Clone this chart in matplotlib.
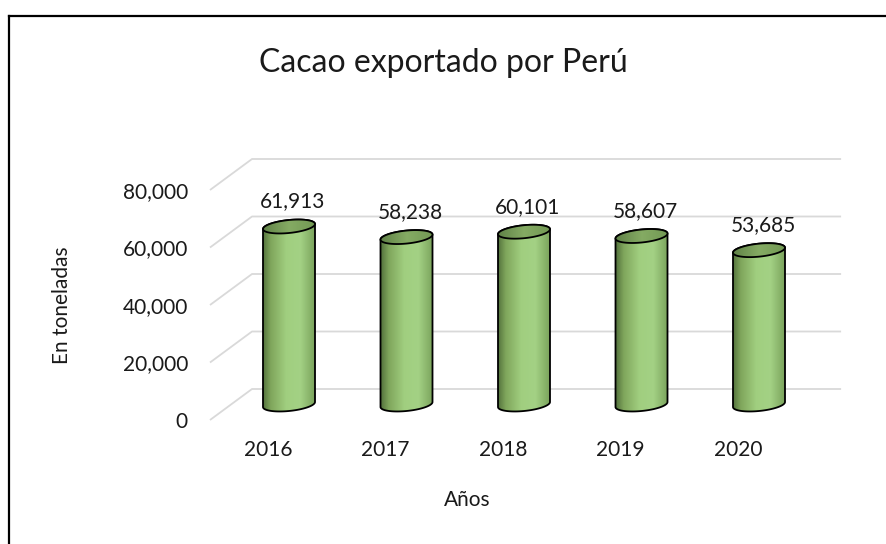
import matplotlib.pyplot as plt
import numpy as np
from matplotlib.patches import Polygon
from matplotlib.lines import Line2D
from matplotlib.colors import LinearSegmentedColormap

# data
years = ["2016", "2017", "2018", "2019", "2020"]
toneladas = [61913, 58238, 60101, 58607, 53685]
y_ticks = [0, 20000, 40000, 60000, 80000]

FONT = ["Lato", "DejaVu Sans"]

# pixel scale of the front plane (figure is 886 x 544 px)
SX = 117.5           # px per category
SY = 57.5 / 20000    # px per tonne
X0_PX, Y0_PX = 268, 420   # front position of first category / value 0

fig = plt.figure(figsize=(8.86, 5.44), dpi=100)
ax = fig.add_axes([0, 0, 1, 1])
ax.set_xlim(-X0_PX / SX, (886 - X0_PX) / SX)
ax.set_ylim(-(544 - Y0_PX) / SY, Y0_PX / SY)
ax.axis("off")

# depth offsets (in data units)
back_dx, back_dy = 42 / SX, 31 / SY
mid_dx, mid_dy = 21 / SX, 15.5 / SY
x_left = -58 / SX
x_right = 4.52

# back wall gridlines with the perspective floor edge
for v in y_ticks:
    ax.plot([x_left, x_left + back_dx, x_right + back_dx],
            [v, v + back_dy, v + back_dy],
            color="#d9d9d9", lw=1.3, zorder=1, solid_capstyle="butt")
    ax.annotate(f"{v:,}", (x_left, v), xytext=(-22, -2), textcoords="offset pixels",
                ha="right", va="center", fontsize=15, family=FONT, color="#1a1a1a")

# cylinders
hw_px, b_px, tilt_px = 26, 6.5, 2.5

def ellipse(cx, cy, t):
    x = cx + hw_px * np.cos(t) / SX
    y = cy + (b_px * np.sin(t) + tilt_px * np.cos(t)) / SY
    return np.column_stack([x, y])

body_cmap = LinearSegmentedColormap.from_list("body", [
    (0.0, (0.33, 0.45, 0.24)), (0.15, (0.50, 0.65, 0.36)),
    (0.45, (0.63, 0.81, 0.50)), (0.72, (0.64, 0.82, 0.52)),
    (1.0, (0.48, 0.64, 0.36))])
top_cmap = LinearSegmentedColormap.from_list("top", [
    (0.0, (0.38, 0.51, 0.28)), (0.5, (0.52, 0.67, 0.39)),
    (1.0, (0.45, 0.60, 0.33))])
grad = np.linspace(0, 1, 256).reshape(1, -1)

for i, (yr, v) in enumerate(zip(years, toneladas)):
    cx = i + mid_dx
    yb = mid_dy
    yt = v + mid_dy
    t_low = np.linspace(np.pi, 2 * np.pi, 60)
    t_up = np.linspace(0, np.pi, 60)
    body_pts = np.vstack([ellipse(cx, yb, t_low), ellipse(cx, yt, t_up)])
    body = Polygon(body_pts, closed=True, facecolor="none", edgecolor="black",
                   lw=1.3, zorder=4)
    ax.add_patch(body)
    ext = [cx - hw_px / SX, cx + hw_px / SX, yb - 12 / SY, yt + 12 / SY]
    im = ax.imshow(grad, cmap=body_cmap, extent=ext, aspect="auto", zorder=3,
                   interpolation="bilinear")
    im.set_clip_path(body)

    top_pts = ellipse(cx, yt, np.linspace(0, 2 * np.pi, 120))
    top = Polygon(top_pts, closed=True, facecolor="none", edgecolor="black",
                  lw=1.3, zorder=6)
    ax.add_patch(top)
    im2 = ax.imshow(grad, cmap=top_cmap, extent=ext, aspect="auto", zorder=5,
                    interpolation="bilinear")
    im2.set_clip_path(top)

    ax.annotate(f"{v:,}", (cx, yt), xytext=(4, 25), textcoords="offset pixels",
                ha="center", va="center", fontsize=15, family=FONT, color="#1a1a1a")
    ax.annotate(yr, (i, 0), xytext=(0, -30), textcoords="offset pixels",
                ha="center", va="center", fontsize=15, family=FONT, color="#1a1a1a")

ax.set_xlim(-X0_PX / SX, (886 - X0_PX) / SX)
ax.set_ylim(-(544 - Y0_PX) / SY, Y0_PX / SY)

fig.text(0.5, 1 - 63 / 544, "Cacao exportado por Perú", ha="center", va="center",
         fontsize=23, family=FONT, color="#1a1a1a")
fig.text(62 / 886, 1 - 305 / 544, "En toneladas", rotation=90, ha="center",
         va="center", fontsize=15, family=FONT, color="#1a1a1a")
fig.text(467 / 886, 1 - 500 / 544, "Años", ha="center", va="center",
         fontsize=15, family=FONT, color="#1a1a1a")

# chart border (only top and left edges visible)
fig.add_artist(Line2D([9 / 886, 1], [1 - 16 / 544, 1 - 16 / 544],
                      transform=fig.transFigure, color="black", lw=1.6))
fig.add_artist(Line2D([9 / 886, 9 / 886], [0, 1 - 16 / 544],
                      transform=fig.transFigure, color="black", lw=1.6))

fig.savefig("out.png", dpi=100)
